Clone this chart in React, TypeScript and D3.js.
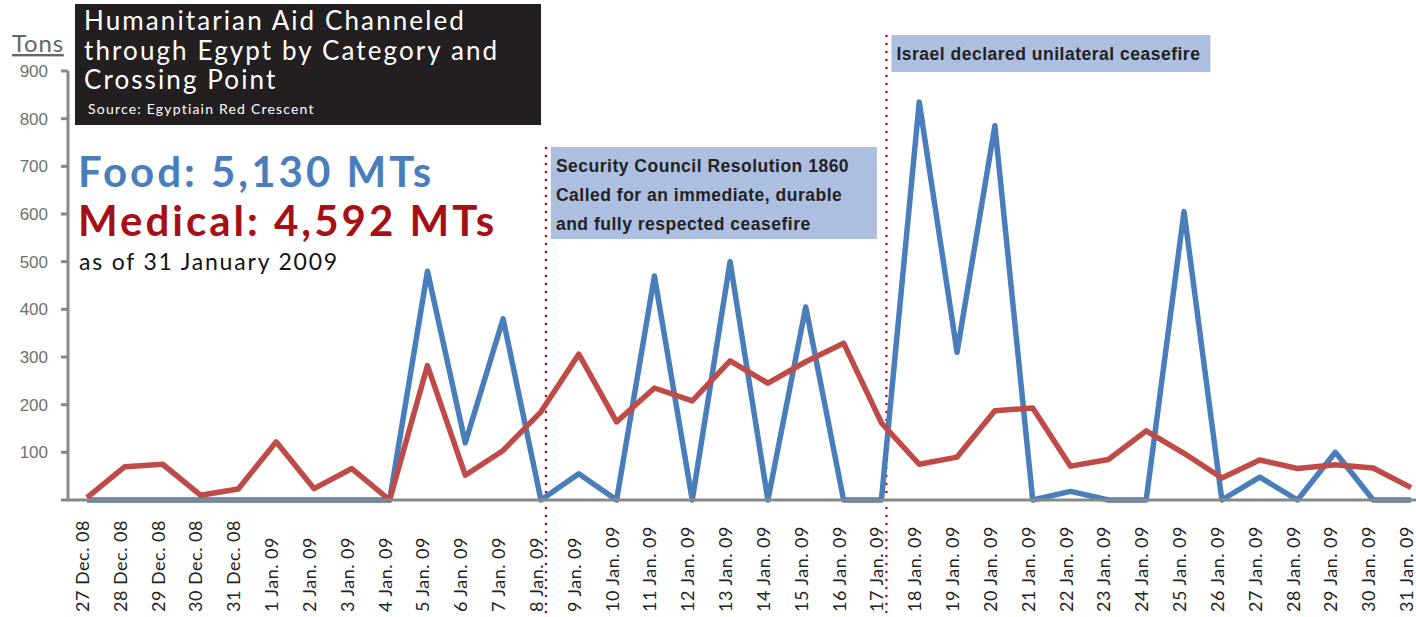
import * as d3 from "d3";

const dates = [
  "27 Dec. 08", "28 Dec. 08", "29 Dec. 08", "30 Dec. 08", "31 Dec. 08",
  "1 Jan. 09", "2 Jan. 09", "3 Jan. 09", "4 Jan. 09", "5 Jan. 09", "6 Jan. 09",
  "7 Jan. 09", "8 Jan. 09", "9 Jan. 09", "10 Jan. 09", "11 Jan. 09", "12 Jan. 09",
  "13 Jan. 09", "14 Jan. 09", "15 Jan. 09", "16 Jan. 09", "17 Jan. 09", "18 Jan. 09",
  "19 Jan. 09", "20 Jan. 09", "21 Jan. 09", "22 Jan. 09", "23 Jan. 09", "24 Jan. 09",
  "25 Jan. 09", "26 Jan. 09", "27 Jan. 09", "28 Jan. 09", "29 Jan. 09", "30 Jan. 09",
  "31 Jan. 09",
];

const food = [
  0, 0, 0, 0, 0, 0, 0, 0, 0, 480, 120, 380, 0, 55, 0, 470, 0, 500, 0, 405, 0, 0,
  835, 310, 785, 0, 18, 0, 0, 605, 0, 48, 0, 100, 0, 0,
];

const medical = [
  5, 70, 75, 10, 23, 122, 24, 66, 0, 282, 52, 104, 185, 306, 164, 235, 208, 292,
  245, 290, 329, 162, 75, 90, 187, 193, 71, 85, 145, 98, 46, 84, 66, 74, 67, 26,
];

const yTicks = [100, 200, 300, 400, 500, 600, 700, 800, 900];

const titleLines = ["Humanitarian Aid Channeled", "through Egypt by Category and", "Crossing Point"];

// events sit between two days: index of the day before
const events = [
  { after: 12, top: 148, lines: ["Security Council Resolution 1860", "Called for an immediate, durable", "and fully respected ceasefire"] },
  { after: 21, top: 36, lines: ["Israel declared unilateral ceasefire"] },
];

const W = 1416;
const H = 617;
const BLUE = "#4a7ebb";
const RED = "#be4b48";
const GILL = "Lato, 'Open Sans', sans-serif";
const HELV = "'Liberation Sans', Arial, sans-serif";

export default function App() {
  const x = d3.scaleLinear().domain([0, dates.length - 1]).range([87, 1411]);
  const y = d3.scaleLinear().domain([0, 900]).range([500, 71]);

  const line = d3
    .line<number>()
    .x((_, i) => x(i))
    .y((d) => y(d));

  const boxW = [326, 319];
  const boxH = [92, 37];

  return (
    <svg
      width={W}
      height={H}
      style={{ position: "absolute", left: 0, top: 0, background: "#fff" }}
    >
      {/* y axis */}
      <line x1={68} x2={68} y1={y(900)} y2={y(0)} stroke="#888" strokeWidth={3} />
      {yTicks.map((t) => (
        <g key={t}>
          <line x1={61} x2={68} y1={y(t)} y2={y(t)} stroke="#888" strokeWidth={3} />
          <text
            x={48}
            y={y(t) + 6}
            textAnchor="end"
            fontFamily={HELV}
            fontSize={17}
            fill="#6f6f6f"
          >
            {t}
          </text>
        </g>
      ))}
      <text x={12} y={52} fontFamily={GILL} fontSize={24} fill="#666" textDecoration="underline" letterSpacing={0.8}>
        Tons
      </text>

      {/* x labels */}
      {dates.map((d, i) => (
        <text
          key={d}
          transform={`translate(${x(i) + 2},${612}) rotate(-90)`}
          fontFamily={GILL}
          fontSize={18}
          letterSpacing={0.5}
          fill="#222"
        >
          {d}
        </text>
      ))}

      {/* event markers */}
      {events.map((e, k) => {
        const ex = x(e.after) + 5;
        return (
          <g key={k}>
            <line
              x1={ex}
              x2={ex}
              y1={e.top}
              y2={H}
              stroke="#c00000"
              strokeWidth={2.5}
              strokeDasharray="0,8"
              strokeLinecap="round"
            />
            <rect x={ex + 5} y={e.top - 1} width={boxW[k]} height={boxH[k]} fill="#adbfe0" />
            {e.lines.map((l, j) => (
              <text
                key={j}
                x={ex + 10}
                y={e.top + 24 + j * 29}
                fontFamily={HELV}
                fontWeight="bold"
                fontSize={17.5}
                letterSpacing={0.5}
                fill="#222"
              >
                {l}
              </text>
            ))}
          </g>
        );
      })}

      {/* series */}
      <path d={line(food) ?? ""} fill="none" stroke={BLUE} strokeWidth={5.5} strokeLinejoin="round" />
      <path d={line(medical) ?? ""} fill="none" stroke={RED} strokeWidth={5.5} strokeLinejoin="round" />

      {/* x axis baseline */}
      <line x1={61} x2={W} y1={y(0)} y2={y(0)} stroke="#888" strokeWidth={3} />

      {/* title block */}
      <rect x={75} y={4} width={466} height={121} fill="#231f20" />
      {titleLines.map((t, i) => (
        <text key={i} x={84} y={30 + i * 29.5} fontFamily={GILL} fontSize={26} fill="#fff" letterSpacing={2.1}>
          {t}
        </text>
      ))}
      <text x={88} y={114} fontFamily={GILL} fontSize={14} fill="#fff" letterSpacing={1.2}>
        Source: Egyptiain Red Crescent
      </text>

      {/* totals */}
      <text x={78} y={187} fontFamily={GILL} fontWeight="bold" fontSize={42} fill={BLUE} letterSpacing={3}>
        Food: 5,130 MTs
      </text>
      <text x={78} y={236} fontFamily={GILL} fontWeight="bold" fontSize={42} fill="#a50f15" letterSpacing={3}>
        Medical: 4,592 MTs
      </text>
      <text x={79} y={270} fontFamily={GILL} fontSize={23} fill="#111" letterSpacing={1.8}>
        as of 31 January 2009
      </text>
    </svg>
  );
}
